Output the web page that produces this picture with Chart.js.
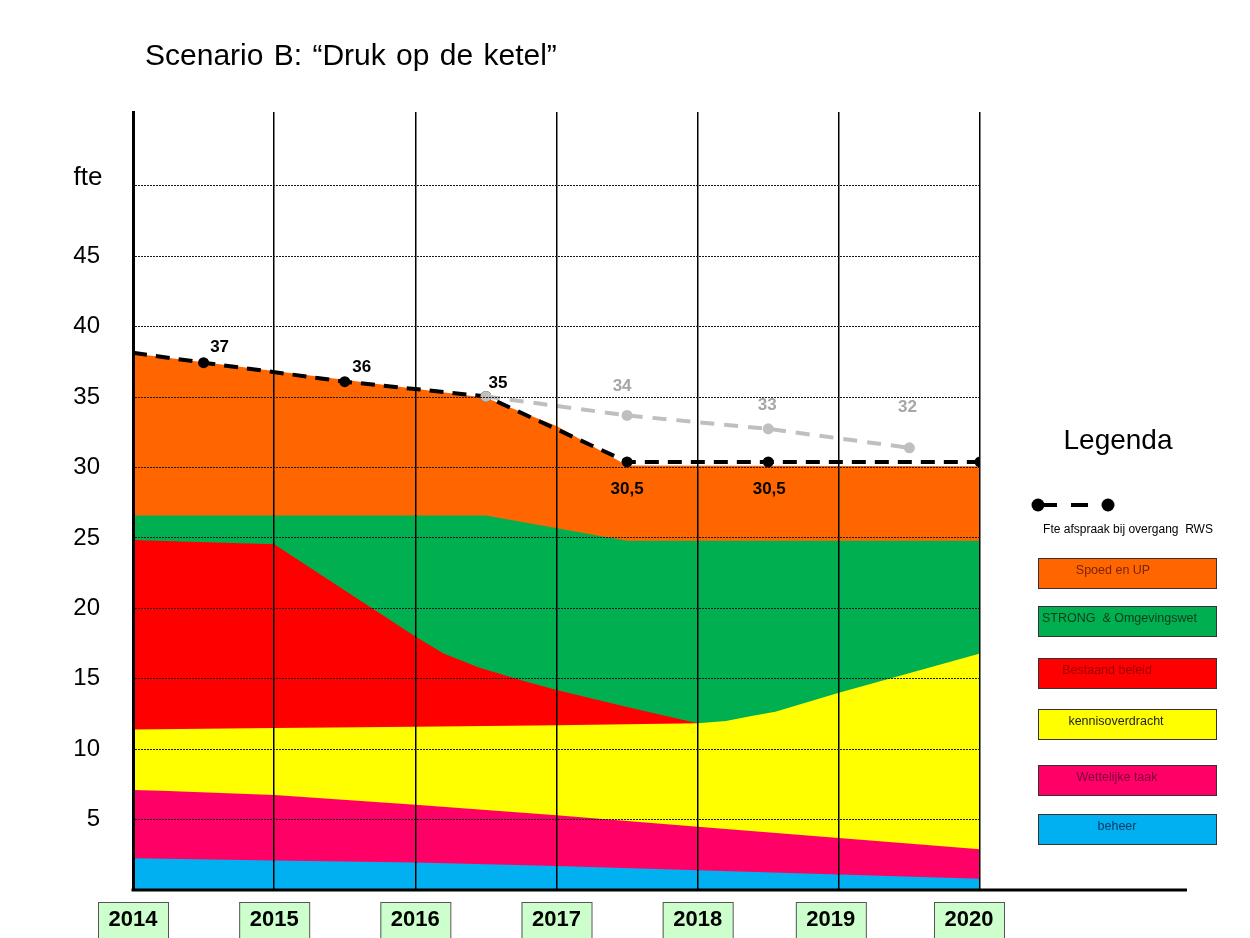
<!DOCTYPE html>
<html>
<head>
<meta charset="utf-8">
<script src="https://cdn.jsdelivr.net/npm/chart.js@4.4.0/dist/chart.umd.min.js"></script>
<style>
  html, body { margin: 0; padding: 0; background: #fff; }
  #wrap { width: 1250px; height: 938px; position: relative; }
</style>
</head>
<body>
<div id="wrap"><canvas id="grafiek" width="1250" height="938"></canvas></div>
<script>
// jaren op de x-as
const jaren = [2014, 2015, 2016, 2017, 2018, 2019, 2020];
const yWaarden = [0, 5, 10, 15, 20, 25, 30, 35, 40, 45, 50];

// bovengrens van elke laag (fte)
const beheerX = [2014, 2015, 2016, 2017, 2018, 2019, 2020];
const beheer = [2.25, 2.1, 1.95, 1.7, 1.4, 1.1, 0.8];
const wettelijkeTaakX = [2014, 2014.2, 2015, 2016, 2017, 2018, 2019, 2020];
const wettelijkeTaak = [7.1, 7.05, 6.75, 6.05, 5.3, 4.5, 3.7, 2.9];
const kennisX = [2014, 2015, 2016, 2017, 2018, 2018.2, 2018.4, 2018.55, 2019, 2020];
const kennis = [11.4, 11.5, 11.6, 11.7, 11.85, 12.0, 12.4, 12.65, 14.0, 16.8];
const bestaandX = [2014, 2015, 2016, 2016.2, 2016.45, 2016.75, 2017, 2017.5, 2018];
const bestaand = [24.85, 24.55, 18.0, 16.8, 15.8, 14.9, 14.2, 13.0, 11.85];
const strongX = [2014, 2016.5, 2017.5, 2020];
const strong = [26.6, 26.6, 24.8, 24.8];
const spoedX = [2014, 2015, 2016, 2016.5, 2017, 2017.5, 2020];
const spoed = [38.1, 36.85, 35.6, 34.95, 32.95, 30.15, 30.1];

// fte afspraak bij overgang RWS
const afspraakX = [2014, 2014.5, 2015.5, 2016.5, 2017.5, 2018.5, 2020];
const afspraak = [38.15, 37.45, 36.1, 35.05, 30.4, 30.4, 30.4];
const afspraakLabels = ['', '37', '36', '35', '30,5', '30,5', ''];
// oorspronkelijke afspraak (grijs)
const oudX = [2016.5, 2017.5, 2018.5, 2019.5];
const oud = [35.05, 33.7, 32.75, 31.4];
const oudLabels = ['', '34', '33', '32'];

// legenda, van boven naar beneden
const lagen = ['Spoed en UP', 'STRONG  & Omgevingswet', 'Bestaand beleid', 'kennisoverdracht', 'Wettelijke taak', 'beheer'];
const kleuren = ['#ff6600', '#00b050', '#ff0000', '#ffff00', '#ff0066', '#00b0f0'];
const tekstKleuren = ['#7a2408', '#103a1c', '#9a0000', '#222222', '#7a0040', '#0a3a66'];

const FONT = "'Liberation Sans', Arial, sans-serif";
Chart.defaults.font.family = FONT;

const punten = (xs, ys) => xs.map((x, i) => ({ x: x, y: ys[i] }));

function laag(idx, xs, ys) {
  return {
    label: lagen[idx],
    data: punten(xs, ys),
    backgroundColor: kleuren[idx],
    borderWidth: 0,
    pointRadius: 0,
    tension: 0,
    fill: 'origin'
  };
}

// teksten, legenda en jaartal-blokjes
const teksten = {
  id: 'teksten',
  afterDraw(chart) {
    const { ctx, scales: { x, y } } = chart;
    ctx.save();

    // titel
    ctx.fillStyle = '#000';
    ctx.font = '30px ' + FONT;
    ctx.textAlign = 'left';
    ctx.textBaseline = 'middle';
    ctx.wordSpacing = '2px';
    ctx.fillText('Scenario B: \u201cDruk op de ketel\u201d', 145, 57);
    ctx.wordSpacing = '0px';

    // as-titel
    ctx.font = '26px ' + FONT;
    ctx.textAlign = 'center';
    ctx.fillText('fte', 88, 178);

    // dikke x-as
    ctx.strokeStyle = '#000';
    ctx.lineWidth = 3;
    ctx.beginPath();
    ctx.moveTo(chart.chartArea.left - 1.5, y.getPixelForValue(0));
    ctx.lineTo(1187, y.getPixelForValue(0));
    ctx.stroke();

    // waarden bij de afspraaklijnen
    const zwartPos = [null, [16, -15], [17, -14], [12, -13], [0, 27], [1, 27], null];
    ctx.font = 'bold 17px ' + FONT;
    ctx.fillStyle = '#000';
    afspraakLabels.forEach((t, i) => {
      if (!t) return;
      const px = x.getPixelForValue(afspraakX[i]) + zwartPos[i][0];
      const py = y.getPixelForValue(afspraak[i]) + zwartPos[i][1];
      ctx.fillText(t, px, py);
    });
    const grijsPos = [null, [-5, -29], [-1, -24], [-2, -41]];
    ctx.fillStyle = '#a6a6a6';
    oudLabels.forEach((t, i) => {
      if (!t) return;
      const px = x.getPixelForValue(oudX[i]) + grijsPos[i][0];
      const py = y.getPixelForValue(oud[i]) + grijsPos[i][1];
      ctx.fillText(t, px, py);
    });

    // jaartallen in groene blokjes
    const verschuiving = [0, 0, 0, 0, 0, -8, -11];
    jaren.forEach((jaar, i) => {
      const cx = x.getPixelForValue(jaar) + verschuiving[i];
      ctx.fillStyle = '#ccffcc';
      ctx.fillRect(cx - 35, 902, 70, 45);
      ctx.strokeStyle = '#555';
      ctx.lineWidth = 1;
      ctx.strokeRect(cx - 35 + 0.5, 902.5, 70, 45);
      ctx.fillStyle = '#000';
      ctx.font = 'bold 22px ' + FONT;
      ctx.fillText(String(jaar), cx, 920);
    });

    // legenda
    ctx.fillStyle = '#000';
    ctx.strokeStyle = '#000';
    ctx.font = '28px ' + FONT;
    ctx.fillText('Legenda', 1118, 441);

    ctx.lineWidth = 4;
    ctx.beginPath();
    ctx.moveTo(1040, 505); ctx.lineTo(1057, 505);
    ctx.moveTo(1071, 505); ctx.lineTo(1088, 505);
    ctx.stroke();
    [1038, 1108].forEach(cx => {
      ctx.beginPath();
      ctx.arc(cx, 505, 6.5, 0, Math.PI * 2);
      ctx.fill();
    });
    ctx.font = '12px ' + FONT;
    ctx.fillText('Fte afspraak bij overgang  RWS', 1128, 530);

    const boxTop = [558, 606, 658, 709, 765, 814];
    const tekstX = [1113, 1042, 1107, 1116, 1117, 1117];
    lagen.forEach((naam, i) => {
      ctx.fillStyle = kleuren[i];
      ctx.fillRect(1038, boxTop[i], 178, 30);
      ctx.strokeStyle = '#333';
      ctx.lineWidth = 1;
      ctx.strokeRect(1038.5, boxTop[i] + 0.5, 178, 30);
      ctx.fillStyle = tekstKleuren[i];
      ctx.font = '12.5px ' + FONT;
      ctx.textAlign = i === 1 ? 'left' : 'center';
      ctx.fillText(naam, tekstX[i], boxTop[i] + 13);
    });

    ctx.restore();
  }
};

new Chart(document.getElementById('grafiek'), {
  type: 'line',
  data: {
    datasets: [
      {
        label: 'oud',
        data: punten(oudX, oud),
        borderColor: '#bfbfbf',
        borderWidth: 4,
        borderDash: [14, 10],
        pointRadius: 5.5,
        pointBorderWidth: 0,
        pointBackgroundColor: '#bfbfbf',
        tension: 0,
        fill: false
      },
      {
        label: 'Fte afspraak bij overgang RWS',
        data: punten(afspraakX, afspraak),
        borderColor: '#000',
        borderWidth: 4,
        borderDash: [14, 9],
        pointRadius: [0, 5.5, 5.5, 5.5, 5.5, 5.5, 5.5],
        pointBorderWidth: 0,
        pointBackgroundColor: '#000',
        tension: 0,
        fill: false
      },
      laag(5, beheerX, beheer),
      laag(4, wettelijkeTaakX, wettelijkeTaak),
      laag(3, kennisX, kennis),
      laag(2, bestaandX, bestaand),
      laag(1, strongX, strong),
      laag(0, spoedX, spoed)
    ]
  },
  options: {
    responsive: false,
    animation: false,
    layout: { padding: { top: 112, right: 270, bottom: 48, left: 0 } },
    plugins: {
      legend: { display: false },
      tooltip: { enabled: false }
    },
    scales: {
      x: {
        type: 'linear',
        min: 2014,
        max: 2020,
        afterBuildTicks: s => { s.ticks = jaren.map(v => ({ value: v })); },
        afterFit: s => { s.height = 0; },
        ticks: { display: false },
        grid: { color: '#000', lineWidth: 1.5, drawTicks: false, z: 1 },
        border: { display: false }
      },
      y: {
        min: 0,
        max: 55.25,
        afterBuildTicks: s => { s.ticks = yWaarden.map(v => ({ value: v })); },
        afterFit: s => { s.width = 133; },
        ticks: {
          padding: 33,
          color: '#000',
          font: { size: 24 },
          callback: v => (v > 0 && v < 50) ? String(v) : ''
        },
        grid: {
          drawTicks: false,
          lineWidth: 1,
          z: 1,
          color: c => (c.tick && c.tick.value > 0) ? '#1a1a1a' : 'rgba(0,0,0,0)'
        },
        border: { display: true, color: '#000', width: 3, dash: [2, 1], z: 2 }
      }
    }
  },
  plugins: [teksten]
});
</script>
</body>
</html>
